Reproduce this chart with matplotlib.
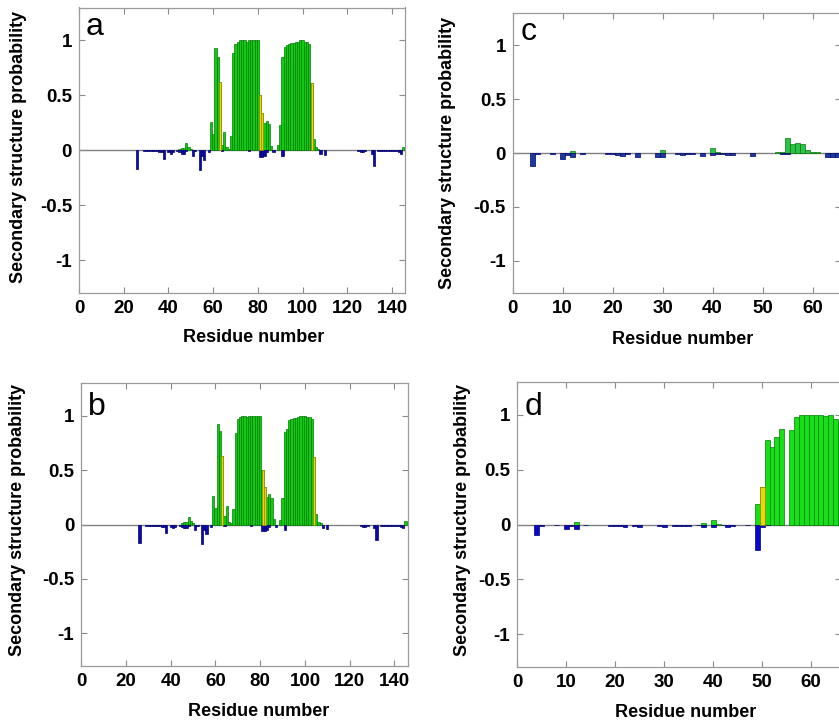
import numpy as np
import matplotlib.pyplot as plt

W, H = 839, 721
plt.rcParams['font.family'] = ['Liberation Sans', 'DejaVu Sans']

# ---------------- data ----------------
# panel a : helix (green, >0), strand (blue, <0), other (yellow)
A_HELIX_RES = [45, 46, 47, 48, 49, 50, 59, 60, 61, 62, 63, 64, 65, 66, 67, 68,
               69, 70, 71, 72, 73, 74, 75, 76, 77, 78, 79, 80, 81, 82, 83, 84,
               85, 86, 89, 90, 91, 92, 93, 94, 95, 96, 97, 98, 99, 100, 101,
               102, 103, 104, 105, 106, 107, 145]
A_HELIX_VAL = [0.01, 0.02, 0.02, 0.07, 0.03, 0.01, 0.26, 0.15, 0.93, 0.85, 0.62,
               0.05, 0.17, 0.03, 0.01, 0.13, 0.89, 0.97, 0.99, 1.0, 1.0, 1.0, 0.99,
               1.0, 1.0, 1.0, 1.0, 1.0, 0.50, 0.34, 0.25, 0.27, 0.24, 0.04, 0.05,
               0.23, 0.85, 0.94, 0.96, 0.97, 0.98, 0.98, 0.99, 0.99, 1.0, 1.0,
               0.99, 0.99, 0.97, 0.61, 0.10, 0.03, 0.01, 0.03]
A_STRAND_RES = [26, 29, 30, 31, 32, 33, 34, 35, 36, 37, 38, 40, 41, 42, 44, 45,
                46, 47, 48, 51, 52, 54, 55, 56, 58, 64, 76, 81, 82, 83, 84, 87,
                91, 108, 110, 125, 126, 127, 128, 131, 132, 134, 135, 136, 137,
                138, 139, 140, 141, 142, 143, 144]
A_STRAND_VAL = [-0.17, -0.01, -0.01, -0.01, -0.01, -0.01, -0.01, -0.01, -0.02,
                -0.02, -0.08, -0.02, -0.03, -0.02, -0.01, -0.02, -0.03, -0.03,
                -0.01, -0.05, -0.01, -0.18, -0.05, -0.09, -0.02, -0.01, -0.01,
                -0.06, -0.06, -0.05, -0.02, -0.02, -0.05, -0.03, -0.04, -0.01,
                -0.02, -0.02, -0.01, -0.03, -0.14, -0.01, -0.01, -0.01, -0.01,
                -0.01, -0.01, -0.01, -0.01, -0.01, -0.02, -0.03]
A_OTHER_RES = [63, 81, 82, 104]
A_OTHER_VAL = [0.62, 0.50, 0.34, 0.61]

# panel b
B_HELIX_RES = A_HELIX_RES
B_HELIX_VAL = [0.01, 0.02, 0.02, 0.07, 0.03, 0.01, 0.26, 0.15, 0.92, 0.86, 0.63,
               0.08, 0.17, 0.02, 0.01, 0.14, 0.84, 0.97, 0.99, 1.0, 1.0, 0.99, 1.0,
               1.0, 1.0, 1.0, 1.0, 1.0, 0.50, 0.34, 0.25, 0.28, 0.24, 0.05, 0.04,
               0.24, 0.85, 0.88, 0.96, 0.97, 0.98, 0.98, 0.99, 1.0, 1.0, 1.0,
               0.99, 0.99, 0.97, 0.62, 0.10, 0.02, 0.01, 0.03]
B_STRAND_RES = A_STRAND_RES
B_STRAND_VAL = A_STRAND_VAL
B_OTHER_RES = [63, 81, 82, 104]
B_OTHER_VAL = [0.63, 0.50, 0.34, 0.62]

# panel c
C_HELIX_RES = [12, 30, 40, 41, 53, 54, 55, 56, 57, 58, 59, 60, 61]
C_HELIX_VAL = [0.02, 0.03, 0.05, 0.005, 0.005, 0.005, 0.14, 0.08, 0.09, 0.085,
               0.03, 0.01, 0.005]
C_STRAND_RES = [4, 5, 8, 10, 11, 12, 14, 19, 20, 21, 22, 23, 25, 29, 30, 33, 34,
                35, 36, 38, 40, 41, 42, 43, 44, 48, 54, 55, 63, 64, 65]
C_STRAND_VAL = [-0.12, -0.01, -0.01, -0.06, -0.02, -0.04, -0.01, -0.01, -0.01,
                -0.015, -0.03, -0.01, -0.04, -0.04, -0.04, -0.01, -0.015, -0.01,
                -0.01, -0.03, -0.02, -0.01, -0.01, -0.015, -0.015, -0.025,
                -0.005, -0.005, -0.04, -0.04, -0.04]
C_OTHER_RES = []
C_OTHER_VAL = []

# panel d
D_HELIX_RES = [12, 38, 40, 41, 49, 50, 51, 52, 53, 54, 56, 57, 58, 59, 60, 61,
               62, 63, 64, 65, 66]
D_HELIX_VAL = [0.02, 0.01, 0.04, 0.005, 0.19, 0.34, 0.77, 0.71, 0.80, 0.87, 0.86,
               0.98, 0.995, 1.0, 1.0, 1.0, 1.0, 0.99, 1.0, 0.96, 0.93]
D_STRAND_RES = [4, 5, 8, 10, 11, 12, 14, 19, 20, 21, 22, 24, 25, 29, 30, 32, 33,
                34, 35, 37, 38, 40, 42, 43, 44, 47, 49, 50, 51]
D_STRAND_VAL = [-0.10, -0.01, -0.003, -0.045, -0.01, -0.045, -0.005, -0.01,
                -0.01, -0.01, -0.02, -0.01, -0.025, -0.015, -0.025, -0.01, -0.01,
                -0.01, -0.01, -0.005, -0.025, -0.02, -0.005, -0.02, -0.01,
                -0.005, -0.23, -0.02, -0.005]
D_OTHER_RES = [50]
D_OTHER_VAL = [0.34]

Y_TICKS = [-1, -0.5, 0, 0.5, 1]
Y_TICKLABELS = ['-1', '-0.5', '0', '0.5', '1']
X_TICKS_LONG = [0, 20, 40, 60, 80, 100, 120, 140]
X_TICKS_SHORT = [0, 10, 20, 30, 40, 50, 60]

# ---------------- styles ----------------
GREEN = '#10cc10'
GREEN_EDGE = '#067a06'
BLUE = '#0a0aa8'
BLUE_EDGE = '#000070'
YELLOW = '#e8d80a'
YELLOW_EDGE = '#9a8a00'

fig = plt.figure(figsize=(W / 100, H / 100), dpi=100)


def px_axes(l, t, r, b):
    return fig.add_axes([l / W, 1 - b / H, (r - l) / W, (b - t) / H])


def draw_panel(ax, hres, hval, sres, sval, ores, oval, xmax, xticks,
               green=GREEN, blue=BLUE):
    ax.axhline(0, color='#808080', lw=1.0, zorder=1)
    ax.bar(hres, hval, width=1.0, color=green, edgecolor=GREEN_EDGE, lw=0.5, zorder=2)
    ax.bar(sres, sval, width=1.0, color=blue, edgecolor=BLUE_EDGE, lw=0.5, zorder=2)
    if ores:
        ax.bar(np.array(ores) + 0.05, oval, width=0.9, color=YELLOW,
               edgecolor=YELLOW_EDGE, lw=0.5, zorder=3)
    ax.set_xlim(0, xmax)
    ax.set_ylim(-1.3, 1.3)
    ax.set_xticks(xticks)
    ax.set_yticks(Y_TICKS)
    ax.set_yticklabels(Y_TICKLABELS)
    ax.tick_params(direction='in', top=True, right=True, length=4, width=0.8,
                   color='#8a8a8a', labelsize=13.5, pad=5)
    for s in ax.spines.values():
        s.set_color('#9a9a9a')
        s.set_linewidth(0.9)
    for lab in ax.get_xticklabels() + ax.get_yticklabels():
        lab.set_fontweight('bold')


def labels(ax, letter, letter_xy, xlab_xy, ylab_xy):
    ax.set_xlabel('Residue number', fontsize=13, fontweight='bold', va='baseline')
    ax.xaxis.set_label_coords(xlab_xy[0] / W, 1 - xlab_xy[1] / H, transform=fig.transFigure)
    ax.set_ylabel('Secondary structure probability', fontsize=13,
                  fontweight='bold', va='center')
    ax.yaxis.set_label_coords(ylab_xy[0] / W, 1 - ylab_xy[1] / H, transform=fig.transFigure)
    fig.text(letter_xy[0] / W, 1 - letter_xy[1] / H, letter, fontsize=23,
             ha='left', va='baseline')


ax_a = px_axes(79, 7.5, 405, 293)
draw_panel(ax_a, A_HELIX_RES, A_HELIX_VAL, A_STRAND_RES, A_STRAND_VAL,
           A_OTHER_RES, A_OTHER_VAL, 145.8, X_TICKS_LONG)
labels(ax_a, 'a', (86, 35), (254, 342), (18.5, 147))

ax_b = px_axes(81.3, 383, 408.3, 666)
draw_panel(ax_b, B_HELIX_RES, B_HELIX_VAL, B_STRAND_RES, B_STRAND_VAL,
           B_OTHER_RES, B_OTHER_VAL, 146.2, X_TICKS_LONG)
labels(ax_b, 'b', (88, 415), (259, 716), (17.5, 520))

ax_c = px_axes(512.7, 13, 841, 293)
draw_panel(ax_c, C_HELIX_RES, C_HELIX_VAL, C_STRAND_RES, C_STRAND_VAL,
           C_OTHER_RES, C_OTHER_VAL, 65.7, X_TICKS_SHORT,
           green='#2cc24a', blue='#1c3c9c')
labels(ax_c, 'c', (521, 40), (683, 344), (448, 153))

ax_d = px_axes(517.3, 382, 841, 667)
draw_panel(ax_d, D_HELIX_RES, D_HELIX_VAL, D_STRAND_RES, D_STRAND_VAL,
           D_OTHER_RES, D_OTHER_VAL, 66.1, X_TICKS_SHORT,
           green='#18e018', blue='#0808d0')
labels(ax_d, 'd', (525, 415), (686, 717), (462.5, 520))

fig.savefig('out.png', dpi=100)
